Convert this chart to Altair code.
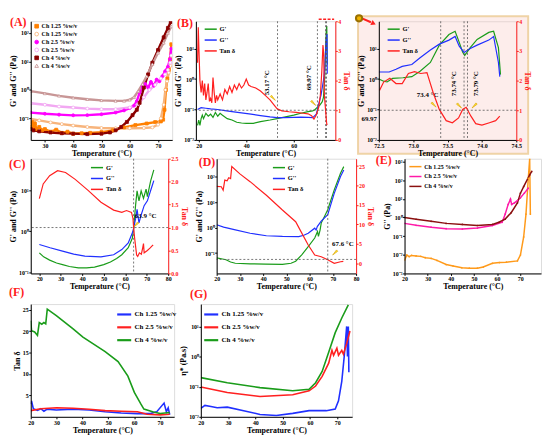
import altair as alt
import pandas as pd

FONT = "Liberation Serif"
GREEN = "#1a9c1a"
BLUE = "#2030ff"
RED = "#ff2020"
YEL = "#ffe135"
DOT = "#555555"
TT = "Temperature (°C)"
GG = "G' and G'' (Pa)"

# ---------------- data (T, value) ----------------
A_125_Gp = [(25, 0.05), (25.5, 0.075), (26, 0.045), (26.5, 0.065), (27, 0.042), (28, 0.05), (29, 0.038), (30, 0.042),
            (32, 0.034), (34, 0.04), (36, 0.031), (38, 0.034), (40, 0.029), (43, 0.03), (46, 0.031), (50, 0.033),
            (54, 0.038), (58, 0.048), (62, 0.058), (66, 0.066), (69, 0.074), (71, 0.078), (71.8, 0.09), (72.3, 0.2),
            (72.8, 1.0), (73.3, 2.5), (73.8, 5.0), (74.3, 12), (74.7, 40)]
A_125_Gpp = [(25, 0.095), (28, 0.085), (32, 0.072), (36, 0.063), (40, 0.056), (45, 0.05), (50, 0.046), (55, 0.045),
             (60, 0.045), (65, 0.046), (68, 0.048), (70, 0.06), (71, 0.1), (72, 0.3), (72.6, 1.0), (73.2, 2.0),
             (73.8, 4.0), (74.4, 7.0)]
A_25_Gp = [(25, 0.16), (30, 0.145), (35, 0.135), (40, 0.128), (45, 0.13), (50, 0.14), (55, 0.16), (58, 0.19), (60, 0.23),
           (61.5, 0.28), (62.5, 0.4), (63.5, 0.8), (64.5, 1.3), (65.5, 1.6), (66.5, 1.2), (67.5, 1.9), (68.5, 1.4),
           (69.5, 2.3), (70.5, 2.0), (71.5, 3.0), (72.5, 4.5), (73.5, 6.5), (74.2, 12), (74.7, 28)]
A_25_Gpp = [(25, 0.34), (30, 0.3), (35, 0.26), (40, 0.24), (45, 0.22), (50, 0.21), (55, 0.21), (60, 0.24), (63, 0.32),
            (65, 0.55), (67, 1.0), (69, 1.5), (71, 2.5), (72.5, 3.5), (73.5, 5), (74.3, 9), (74.7, 16)]
A_4_Gp = [(25, 0.042), (26, 0.038), (28, 0.035), (32, 0.032), (36, 0.03), (40, 0.029), (45, 0.028), (50, 0.029),
          (53, 0.032), (55, 0.038), (57, 0.05), (59, 0.075), (61, 0.13), (62.5, 0.2), (63.5, 0.35), (65, 1.2),
          (66.5, 3.5), (68, 9), (70, 25), (72, 70), (73.5, 150), (74.5, 240)]
A_4_Gpp = [(25, 0.9), (30, 0.75), (35, 0.62), (40, 0.53), (45, 0.47), (50, 0.43), (55, 0.41), (58, 0.41), (60, 0.45),
           (61.5, 0.55), (63, 0.9), (64.5, 1.6), (66, 3.0), (68, 8), (70, 20), (72, 45), (73.5, 100), (74.7, 170)]
A_keys = ["Ch 1.25 %w/v|1", "Ch 1.25 %w/v|2", "Ch 2.5 %w/v|1", "Ch 2.5 %w/v|2", "Ch 4 %w/v|1", "Ch 4 %w/v|2"]
A_line = ["#ff8000", "#f7b47c", "#ff00ff", "#f2a8f2", "#8b0000", "#c89696"]
A_fill = ["#ff8000", "#ffffff", "#ff00ff", "#ffffff", "#8b0000", "#ffffff"]
A_shape = ["square", "circle", "circle", "circle", "square", "triangle-up"]

B_Gp = [(19.5, 0.03), (20, 0.045), (20.5, 0.03), (21, 0.05), (21.5, 0.065), (22, 0.05), (23, 0.075), (24, 0.06),
        (25, 0.07), (26, 0.055), (27, 0.08), (28, 0.06), (29, 0.075), (30, 0.065), (32, 0.05), (34, 0.045), (36, 0.038),
        (38, 0.036), (40, 0.035), (43, 0.035), (46, 0.04), (50, 0.045), (53, 0.05), (56, 0.056), (60, 0.065),
        (63, 0.075), (66, 0.085), (68, 0.09), (69, 0.1), (70, 0.12), (71, 0.14), (72, 0.18), (72.5, 0.25), (73, 1.0),
        (73.4, 10), (73.7, 40), (73.9, 55), (74.1, 3.0)]
B_Gpp = [(19.5, 0.1), (21, 0.115), (23, 0.11), (25, 0.105), (28, 0.1), (31, 0.092), (34, 0.085), (38, 0.077), (42, 0.07),
         (46, 0.063), (50, 0.057), (53, 0.054), (56, 0.054), (60, 0.055), (63, 0.056), (66, 0.055), (68, 0.054),
         (69.5, 0.07), (70.5, 0.15), (71.5, 0.3), (72.5, 0.9), (73, 2), (73.4, 8), (73.7, 20), (74, 30), (74.1, 1.5)]
B_tan = [(19.5, 2.6), (19.8, 3.8), (20.1, 3.0), (20.5, 2.0), (21, 1.6), (21.5, 2.0), (22, 1.5), (22.5, 1.9), (23, 1.35),
         (23.5, 1.6), (24, 1.9), (24.5, 1.3), (25, 1.4), (25.5, 1.25), (26, 2.1), (26.5, 1.6), (27, 1.25), (27.5, 1.5),
         (28, 1.35), (29, 1.55), (30, 1.35), (31, 1.7), (32, 1.55), (33, 1.8), (34, 1.6), (35, 1.85), (36, 1.7),
         (37, 1.9), (38, 1.75), (39, 1.85), (40, 2.05), (41, 1.85), (42, 1.8), (44, 1.75), (46, 1.65), (48, 1.5),
         (50, 1.35), (52, 1.15), (53, 1.05), (55, 0.98), (58, 0.95), (61, 0.93), (64, 0.9), (66, 0.88), (67.5, 0.82),
         (68.5, 0.7), (69.5, 0.85), (70.5, 1.1), (71.2, 1.5), (71.8, 2.3), (72.3, 3.2), (72.6, 2.9), (72.9, 1.5),
         (73.2, 1.2), (73.5, 0.9), (73.8, 0.6), (74.0, 0.5)]
B_vlines = [53.17, 69.97, 73.4, 73.79]
B_ann = [(48.6, 0.75, "53.17 °C"), (66.6, 1.1, "69.97 °C")]
B_arrows = [(51.0, 0.25, 135), (68.0, 0.17, 135)]

I_Gp = [(72.5, 1.0), (72.57, 0.85), (72.62, 0.8), (72.7, 1.05), (72.85, 1.1), (72.98, 1.2), (73.1, 1.8), (73.25, 3.5),
        (73.38, 13), (73.52, 29), (73.61, 37), (73.67, 16), (73.72, 7.6), (73.75, 6), (73.83, 10.7), (73.93, 20),
        (74.1, 34), (74.17, 37), (74.24, 10.7), (74.27, 1.4)]
I_Gpp = [(72.5, 1.7), (72.65, 1.7), (72.75, 2.1), (72.84, 2.6), (72.98, 3), (73.1, 5), (73.25, 9), (73.38, 14),
         (73.52, 19), (73.61, 25), (73.67, 12), (73.74, 7.5), (73.83, 10), (73.93, 13), (74.1, 19), (74.17, 25),
         (74.24, 3.5), (74.26, 1.2)]
I_tan = [(72.51, 1.67), (72.57, 1.95), (72.66, 2.08), (72.75, 1.9), (72.84, 1.9), (72.93, 2.24), (73.02, 2.3),
         (73.11, 2.24), (73.2, 2.27), (73.29, 1.6), (73.38, 1.03), (73.48, 0.65), (73.57, 0.58), (73.66, 0.74),
         (73.72, 1.03), (73.77, 1.1), (73.84, 0.8), (73.91, 0.55), (74.0, 0.5), (74.11, 0.58), (74.2, 0.65),
         (74.26, 0.8)]
I_vlines = [73.4, 73.74, 73.79]
I_ann = [(73.21, 0.3, "73.4 °C", 0), (73.59, 0.7, "73.74 °C", 270), (73.91, 0.7, "73.79 °C", 270),
         (72.36, 0.05, "69.97", 0)]
I_arrows = [(73.29, 0.15, 135), (73.66, 0.14, 135), (73.9, 0.14, 225)]

C_Gp = [(20, 0.3), (22, 0.24), (24.8, 0.2), (28, 0.17), (30.8, 0.155), (34, 0.14), (38.2, 0.13), (42, 0.13),
        (45.7, 0.135), (50, 0.155), (53.1, 0.18), (56, 0.22), (58.4, 0.27), (61.4, 0.4), (63.3, 0.68), (63.9, 1.17),
        (64.8, 4.2), (65.5, 9.6), (66.4, 5.5), (67.4, 9.6), (68.5, 6.3), (69.7, 10.6), (70.3, 7), (71.8, 16.6),
        (73.3, 31)]
C_Gpp = [(20, 0.48), (25, 0.4), (30.8, 0.33), (36, 0.28), (41.2, 0.25), (48.7, 0.24), (54.6, 0.27), (58.4, 0.36),
         (61.4, 0.52), (63.6, 1.0), (64.8, 2.0), (65.5, 3.4), (66.4, 1.6), (67.4, 2.5), (68.8, 4.2), (70.3, 5.5),
         (72.5, 12.6), (73.3, 17)]
C_tan = [(20, 1.63), (21.8, 1.95), (24.8, 2.13), (28.5, 2.24), (32.2, 2.2), (36.7, 2.05), (42.7, 1.81), (48.7, 1.55),
         (54.6, 1.38), (58.4, 1.33), (60.6, 1.37), (62.9, 1.33), (63.6, 1.2), (63.9, 1.0), (64.3, 0.8), (65.3, 0.4),
         (65.8, 0.37), (66.6, 0.45), (67.5, 0.42), (68.1, 0.55), (68.5, 0.65), (68.8, 0.45), (70.3, 0.5),
         (71.5, 0.55), (72.5, 0.6), (73, 0.62)]
C_ann = [(69.5, 2.3, "63.9 °C", 0)]
C_arrows = [(65.3, 1.5, 225)]

D_Gp = [(20, 0.065), (22, 0.06), (24, 0.055), (26, 0.045), (28, 0.04), (34.4, 0.038), (41, 0.037), (48.3, 0.036),
        (52, 0.04), (54, 0.048), (56.7, 0.088), (59.4, 0.18), (62.2, 0.39), (63.4, 0.7), (63.8, 0.45), (64.5, 0.8),
        (65, 1.5), (67.8, 5), (70.6, 30), (73.3, 135), (74.7, 245)]
D_Gpp = [(20, 1.29), (23, 1.05), (27.6, 0.83), (34.4, 0.6), (41.4, 0.48), (48.3, 0.45), (55.3, 0.44), (57.5, 0.5),
         (59.4, 0.6), (62.2, 0.95), (62.8, 0.8), (63.3, 1.1), (65, 1.8), (67.8, 3.2), (70.6, 22), (73.3, 100),
         (74.7, 180)]
D_tan = [(20, 19.8), (22, 19.7), (22.8, 18.8), (23.5, 21.4), (24.5, 21.2), (25.2, 22.0), (26, 21.8), (26.5, 24.9),
         (30, 23.0), (34.4, 21), (41.4, 17.5), (48.3, 13.7), (54, 10.7), (56.7, 7.7), (59.4, 4.7), (62.2, 2.15),
         (65, 1.7), (67.8, 0.9), (70.6, 0.0), (73.3, 0.4), (74.5, 0.5)]
D_ann = [(74.3, 0.22, "67.6 °C", 0)]
D_arrows = [(71.2, 0.11, 225)]

E_125 = [(20, 0.0052), (21, 0.0095), (22, 0.008), (23, 0.0092), (25, 0.0087), (27, 0.0082), (29, 0.007), (31.5, 0.0064),
         (34, 0.005), (38, 0.003), (41, 0.0025), (44.8, 0.002), (48, 0.0019), (51.5, 0.0019), (54, 0.0022),
         (58, 0.0035), (61, 0.0038), (64, 0.004), (68.8, 0.0047), (70.1, 0.0096), (71.5, 0.09), (72.5, 1.5),
         (73.5, 125), (74.1, 1400), (74.4, 1.5)]
E_25 = [(20, 0.48), (25, 0.38), (31.5, 0.3), (38, 0.25), (45, 0.24), (51.5, 0.27), (58, 0.37), (62.2, 0.55),
        (63.5, 1.5), (64.8, 5), (65.8, 9.5), (66.3, 5), (67.5, 6), (68.8, 8), (70.1, 11.3), (71.8, 20), (73.5, 37)]
E_4 = [(20, 1.0), (25, 0.8), (31.5, 0.62), (38, 0.48), (45, 0.42), (51.5, 0.37), (58, 0.42), (60.8, 0.55), (63.5, 0.82),
       (66.1, 1.8), (68.8, 6), (70.1, 20), (71.5, 45), (74.1, 190), (75, 290)]

F_125 = [(20, 3.0), (20.3, 3.7), (21, 1.9), (22.6, 1.5), (23.9, 1.9), (25.1, 1.3), (26.4, 1.8), (29.9, 1.6),
         (36.4, 1.8), (42.6, 1.6), (48.8, 1.2), (55, 0.9), (61.3, 0.75), (66.3, 0.75), (68.8, 1.2), (71.6, 3.2),
         (72.5, 1.2), (73.2, 2.1), (73.8, 0.5)]
F_25 = [(20, 1.45), (23.9, 1.9), (30, 2.1), (36.4, 2.0), (42.6, 1.75), (48.8, 1.45), (55, 1.3), (61.3, 1.2),
        (65, 0.6), (70.1, 0.45), (73.8, 0.6)]
F_4 = [(20, 22.4), (20.3, 20.1), (21.5, 19.8), (22.6, 19.0), (23.3, 22.0), (24.3, 21.6), (25.1, 22.0), (25.8, 21.7),
       (26.4, 25.1), (29.9, 23.6), (36.4, 20.5), (40.2, 18.6), (48.8, 15.2), (53.8, 12.9), (57.6, 9.5), (60.1, 5.7),
       (62.6, 3.0), (63.8, 1.8), (67.5, 1.1), (70.1, 0.76), (73.8, 1.0)]

G_125 = [(20, 0.019), (21.5, 0.024), (23.7, 0.022), (26, 0.02), (29.7, 0.021), (35.7, 0.016), (41.7, 0.012),
         (47.7, 0.011), (53.7, 0.013), (59.7, 0.016), (66, 0.016), (69.3, 0.018), (70.5, 0.034), (71.7, 0.15),
         (72.6, 1.0), (73.5, 10), (73.8, 1.0), (74.1, 10), (74.3, 0.3)]
G_25 = [(20, 0.098), (29.7, 0.064), (41.7, 0.047), (53.7, 0.054), (59.7, 0.073), (62.1, 0.105), (64.5, 0.22),
        (66.9, 0.6), (68.1, 1.6), (68.7, 1.1), (69.9, 1.9), (70.5, 1.1), (71.7, 1.6), (72.3, 1.2), (73.5, 2.7),
        (74.7, 7)]
G_4 = [(20, 0.2), (29.7, 0.135), (41.7, 0.093), (53.7, 0.073), (59.7, 0.082), (62.1, 0.135), (64.5, 0.32),
       (66.9, 1.4), (69.3, 6.2), (71.7, 19), (74.1, 52)]

SER3 = ["Ch 1.25 %w/v", "Ch 2.5 %w/v", "Ch 4 %w/v"]

# ---------------- helpers ----------------
LOG_EXPR = ("datum.value < 0.002 ? '10⁻³' : datum.value < 0.02 ? '10⁻²' : "
            "datum.value < 0.2 ? '10⁻¹' : datum.value < 2 ? '10⁰' : "
            "datum.value < 20 ? '10¹' : datum.value < 200 ? '10²' : '10³'")


def frame(pairs, name):
    return pd.DataFrame({"T": [p[0] for p in pairs], "v": [p[1] for p in pairs], "s": [name] * len(pairs)})


def axis(title, values, orient="bottom", color="black", fmt=None, log=False):
    kw = dict(title=title, values=values, orient=orient, grid=False, tickSize=2, labelPadding=0.5, titlePadding=1,
              labelFont=FONT, labelFontSize=6, labelFontWeight="bold", titleFont=FONT, titleFontSize=8,
              titleFontWeight="bold", domainColor=color, tickColor=color, labelColor=color, titleColor=color,
              zindex=1, labelFlush=False, labelOverlap=False)
    if log:
        kw["labelExpr"] = LOG_EXPR
    if fmt:
        kw["format"] = fmt
    return alt.Axis(**kw)


def legend(x, y, stype="stroke", size=150, fs=6.5, sw=1.5, expr=None):
    kw = dict(orient="none", legendX=x, legendY=y, title=None, symbolSize=size, symbolStrokeWidth=sw,
              labelFont=FONT, labelFontSize=fs, labelFontWeight="bold", rowPadding=0, padding=0, labelOffset=2,
              labelColor="black")
    if stype:
        kw["symbolType"] = stype
    if expr:
        kw["labelExpr"] = expr
    return alt.Legend(**kw)


def xenc(dom, ticks, fmt="d"):
    return alt.X("T:Q", scale=alt.Scale(domain=dom, nice=False, zero=False), axis=axis(TT, ticks, fmt=fmt))


def ylog(dom, ticks, title=GG):
    return alt.Y("v:Q", scale=alt.Scale(type="log", domain=dom, nice=False), axis=axis(title, ticks, "left", log=True))


def ylin(dom, ticks, title, orient="left", color="black", fmt="d"):
    return alt.Y("v:Q", scale=alt.Scale(domain=dom, nice=False, zero=False),
                 axis=axis(title, ticks, orient, color=color, fmt=fmt))


def label(txt, x, y, size=12, color=RED):
    return alt.Chart(pd.DataFrame({"t": [txt]})).mark_text(
        font=FONT, fontSize=size, fontWeight="bold", color=color, align="left", baseline="middle"
    ).encode(text="t:N", x=alt.value(x), y=alt.value(y))


def vrules(xs, x):
    return alt.Chart(pd.DataFrame({"T": xs})).mark_rule(strokeDash=[2, 2], color=DOT, strokeWidth=0.8).encode(x=x)


def hrule(val, y):
    return alt.Chart(pd.DataFrame({"v": [val]})).mark_rule(strokeDash=[2, 2], color=DOT, strokeWidth=0.8).encode(y=y)


def notes(items, x, y):
    df = pd.DataFrame({"T": [i[0] for i in items], "v": [i[1] for i in items], "t": [i[2] for i in items],
                       "a": [i[3] if len(i) > 3 else 270 for i in items]})
    return alt.Chart(df).mark_text(font=FONT, fontSize=7, fontWeight="bold", color="black").encode(
        x=x, y=y, text="t:N", angle=alt.Angle("a:Q", scale=None))


def arrows(items, x, y):
    df = pd.DataFrame({"T": [i[0] for i in items], "v": [i[1] for i in items], "a": [i[2] for i in items]})
    return alt.Chart(df).mark_point(shape="wedge", filled=True, fill=YEL, stroke="#d9a400", strokeWidth=0.6,
                                    size=55, opacity=1).encode(x=x, y=y, angle=alt.Angle("a:Q", scale=None))


GCOL = alt.Scale(domain=["G'", "G''", "Tan δ"], range=[GREEN, BLUE, RED])


def dual(gp, gpp, tan, x, yl, yr, leg, extras_left=(), extras_right=()):
    dfl = pd.concat([frame(gp, "G'"), frame(gpp, "G''")])
    col = alt.Color("s:N", scale=GCOL, legend=leg)
    left = alt.layer(
        alt.Chart(dfl).mark_line(strokeWidth=1.2, clip=True).encode(x=x, y=yl, color=col),
        *extras_left)
    right = alt.layer(
        alt.Chart(frame(tan, "Tan δ")).mark_line(strokeWidth=1.2, clip=True).encode(x=x, y=yr, color=col),
        hrule(1.0, yr), *extras_right)
    return alt.layer(left, right).resolve_scale(y="independent")


H1, H2, H3 = 120, 116, 114

# ---------------- (A) ----------------
dfA = pd.concat([frame(A_125_Gp, A_keys[0]), frame(A_125_Gpp, A_keys[1]), frame(A_25_Gp, A_keys[2]),
                 frame(A_25_Gpp, A_keys[3]), frame(A_4_Gp, A_keys[4]), frame(A_4_Gpp, A_keys[5])])
xA = xenc([25, 75], [30, 40, 50, 60, 70])
yA = ylog([0.0175, 257], [0.1, 1, 10, 100])
legA = legend(3, 2, stype=None, size=14, fs=6, sw=0.9, expr="split(datum.label, '|')[0]")
sA = alt.Scale(domain=A_keys, range=A_line)
lineA = alt.Chart(dfA).mark_line(strokeWidth=2.4, clip=True).encode(
    x=xA, y=yA, stroke=alt.Stroke("s:N", scale=sA, legend=legA))
ptA = alt.Chart(dfA).mark_point(size=9, strokeWidth=0.8, clip=True, opacity=1).encode(
    x=xA, y=yA,
    stroke=alt.Stroke("s:N", scale=sA, legend=legA),
    fill=alt.Fill("s:N", scale=alt.Scale(domain=A_keys, range=A_fill), legend=legA),
    shape=alt.Shape("s:N", scale=alt.Scale(domain=A_keys, range=A_shape), legend=legA))
chA = alt.layer(lineA, ptA, label("(A)", -21, 1)).properties(width=143, height=H1)

# ---------------- (B) ----------------
xB = xenc([18.8, 77.5], [20, 30, 40, 50, 60, 70])
yB = ylog([0.01, 79], [0.01, 0.1, 1, 10])
tB = ylin([0, 4], [0, 1, 2, 3, 4], "Tan δ", "right", RED)
bracket = alt.Chart(pd.DataFrame({"T": [70.5], "T2": [77.0]})).mark_rule(
    color=RED, strokeDash=[3, 1.5], strokeWidth=1.6).encode(x="T:Q", x2="T2:Q", y=alt.value(-2))
chB = dual(B_Gp, B_Gpp, B_tan, xB, yB, tB, legend(8, 1),
           extras_left=[vrules(B_vlines, xB), notes(B_ann, xB, yB), arrows(B_arrows, xB, yB),
                        label("(B)", -19, 2), bracket]).properties(width=141, height=H1)

# ---------------- (B) zoom inset ----------------
WI = 139
xI = xenc([72.5, 74.5], [72.5, 73.0, 73.5, 74.0, 74.5], fmt=".1f")
yI = ylog([0.01, 79], [0.01, 0.1, 1, 10])
tI = ylin([0, 4], [0, 1, 2, 3, 4], "Tan δ", "right", RED)
one = pd.DataFrame({"k": [0]})
box = alt.Chart(one).mark_rect(fill="#f8c8c0", fillOpacity=0.32, stroke="#efd3a6", strokeWidth=2).encode(
    x=alt.value(-21), x2=alt.value(WI + 12), y=alt.value(-5), y2=alt.value(H1 + 14))
arrow_line = alt.Chart(one).mark_rule(color=RED, strokeWidth=2).encode(
    x=alt.value(-17), y=alt.value(-3), x2=alt.value(-8), y2=alt.value(1))
arrow_head = alt.Chart(one).mark_point(shape="triangle", filled=True, color=RED, size=30, opacity=1,
                                       angle=115).encode(x=alt.value(-6), y=alt.value(2))
plus_c = alt.Chart(one).mark_point(shape="circle", filled=True, fill="#f2b400", stroke="#9a7000", size=40,
                                   opacity=1).encode(x=alt.value(-20), y=alt.value(-3))
chI_core = dual(I_Gp, I_Gpp, I_tan, xI, yI, tI, legend(8, 1),
                extras_left=[vrules(I_vlines, xI), notes(I_ann, xI, yI), arrows(I_arrows, xI, yI)])
chI = alt.layer(box, chI_core, arrow_line, arrow_head, plus_c).properties(width=WI, height=H1)

# ---------------- (C) ----------------
xC = xenc([16, 80], [20, 30, 40, 50, 60, 70, 80])
yC = ylog([0.095, 58], [0.1, 1, 10])
tC = ylin([0, 2.5], [0, 0.5, 1.0, 1.5, 2.0, 2.5], "Tan δ", "right", RED, fmt=".1f")
chC = dual(C_Gp, C_Gpp, C_tan, xC, yC, tC, legend(60, 2),
           extras_left=[vrules([63.9], xC), notes(C_ann, xC, yC), arrows(C_arrows, xC, yC),
                        label("(C)", -22, 5), label("(F)", -22, H2 + 19)]).properties(width=139, height=H2)

# ---------------- (D) ----------------
xD = xenc([20, 80], [20, 30, 40, 50, 60, 70, 80])
yD = ylog([0.016, 500], [0.1, 1, 10, 100])
tD = ylin([-2.6, 26.9], [0, 5, 10, 15, 20, 25], "Tan δ", "right", RED)
chD = dual(D_Gp, D_Gpp, D_tan, xD, yD, tD, legend(56, 2),
           extras_left=[vrules([67.8], xD), notes(D_ann, xD, yD), arrows(D_arrows, xD, yD),
                        label("(D)", -18, 3), label("(G)", -27, H2 + 21)]).properties(width=141, height=H2)

# ---------------- (E) ----------------
E_col = alt.Scale(domain=SER3, range=["#ff9a1a", "#ff1aa8", "#8b1010"])
dfE = pd.concat([frame(E_125, SER3[0]), frame(E_25, SER3[1]), frame(E_4, SER3[2])])
xE = xenc([20, 79], [20, 30, 40, 50, 60, 70])
yE = ylog([0.001, 1400], [0.001, 0.01, 0.1, 1, 10, 100, 1000], "G'' (Pa)")
chE = alt.layer(
    alt.Chart(dfE).mark_line(strokeWidth=1.5, clip=True, point=alt.OverlayMarkDef(size=3, filled=True, clip=True)).encode(
        x=xE, y=yE, color=alt.Color("s:N", scale=E_col, legend=legend(4, 1, size=150, fs=6))),
    label("(E)", -29, 1)).properties(width=138, height=H2)

# ---------------- (F) ----------------
F_col = alt.Scale(domain=SER3, range=[BLUE, RED, GREEN])
dfF = pd.concat([frame(F_125, SER3[0]), frame(F_25, SER3[1]), frame(F_4, SER3[2])])
xF = xenc([20, 75.5], [20, 30, 40, 50, 60, 70])
yF = ylin([0, 26.3], [5, 10, 15, 20, 25], "Tan δ")
chF = alt.Chart(dfF).mark_line(strokeWidth=1.6, clip=True).encode(
    x=xF, y=yF, color=alt.Color("s:N", scale=F_col, legend=legend(86, 2, size=200, fs=7, sw=2.2))
).properties(width=145, height=H3)

# ---------------- (G) ----------------
dfG = pd.concat([frame(G_125, SER3[0]), frame(G_25, SER3[1]), frame(G_4, SER3[2])])
xG = xenc([20, 75.5], [20, 30, 40, 50, 60, 70])
yG = ylog([0.01, 55], [0.01, 0.1, 1, 10], "η* (Pa.s)")
chG = alt.Chart(dfG).mark_line(strokeWidth=1.6, clip=True).encode(
    x=xG, y=yG, color=alt.Color("s:N", scale=F_col, legend=legend(2, 2, size=200, fs=7, sw=2.2))
).properties(width=153, height=H3)

RES = dict(x="independent", y="independent", color="independent", stroke="independent",
           fill="independent", shape="independent")
row1 = alt.hconcat(chA, chB, chI, spacing=1).resolve_scale(**RES)
row2 = alt.hconcat(chC, chD, chE, spacing=1).resolve_scale(**RES)
row3 = alt.hconcat(chF, chG, spacing=1).resolve_scale(**RES)
top = alt.vconcat(row1, row2, spacing=-5).resolve_scale(**RES)
chart = alt.vconcat(top, row3, spacing=2).resolve_scale(**RES).properties(
    padding={"left": 0, "top": 0, "right": 0, "bottom": 0}
).configure_view(stroke="black", strokeWidth=0.8).configure(background="white")

chart.save("out.html", embed_options={"renderer": "svg", "actions": False})
